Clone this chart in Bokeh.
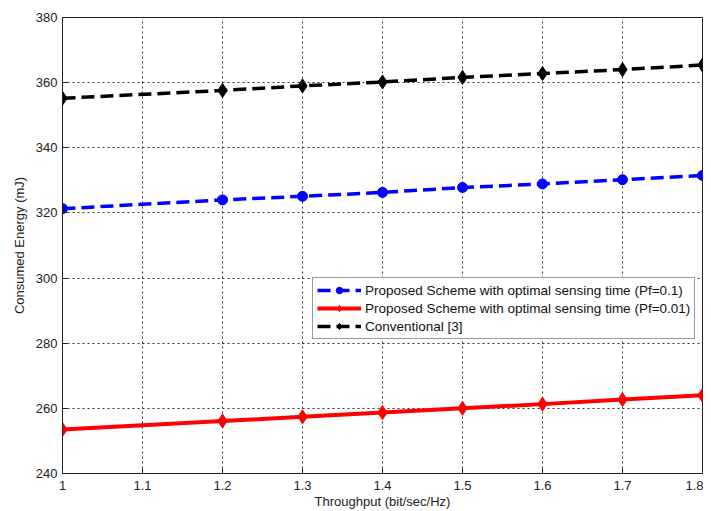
from bokeh.plotting import figure
from bokeh.models import Range1d, FixedTicker, NumeralTickFormatter, Legend, LegendItem
from bokeh.embed import file_html
from bokeh.resources import INLINE

throughput = [1.0, 1.2, 1.3, 1.4, 1.5, 1.6, 1.7, 1.8]
energy_pf01 = [321.3, 324.0, 325.1, 326.3, 327.8, 328.9, 330.2, 331.5]
energy_pf001 = [253.5, 256.1, 257.4, 258.7, 260.0, 261.3, 262.7, 264.0]
energy_conv = [355.2, 357.6, 359.0, 360.2, 361.6, 362.8, 364.0, 365.4]

x_ticks = [1.0, 1.1, 1.2, 1.3, 1.4, 1.5, 1.6, 1.7, 1.8]
y_ticks = [240, 260, 280, 300, 320, 340, 360, 380]

labels = [
    "Proposed Scheme with optimal sensing time (Pf=0.1)",
    "Proposed Scheme with optimal sensing time (Pf=0.01)",
    "Conventional [3]",
]

FONT = "Liberation Sans"

p = figure(width=703, height=511, output_backend="svg", toolbar_location=None,
           x_range=Range1d(1.0, 1.8), y_range=Range1d(240, 380),
           min_border_left=62, min_border_right=1, min_border_top=17, min_border_bottom=37)

p.outline_line_color = "#222222"
p.outline_line_width = 1

for ax in (p.xaxis[0], p.yaxis[0]):
    ax.major_tick_in = 5
    ax.major_tick_out = 0
    ax.minor_tick_line_color = None
    ax.axis_line_color = "#222222"
    ax.major_tick_line_color = "#222222"
    ax.major_label_text_font = FONT
    ax.major_label_text_font_size = "13px"
    ax.major_label_text_color = "#222222"
    ax.axis_label_text_font = FONT
    ax.axis_label_text_font_size = "13px"
    ax.axis_label_text_font_style = "normal"
    ax.axis_label_text_color = "#222222"

p.xaxis.ticker = FixedTicker(ticks=x_ticks)
p.yaxis.ticker = FixedTicker(ticks=y_ticks)
p.xaxis.formatter = NumeralTickFormatter(format="0.[0]")
p.xaxis.axis_label = "Throughput (bit/sec/Hz)"
p.yaxis.axis_label = "Consumed Energy (mJ)"
p.xaxis.major_label_standoff = 7
p.xaxis.axis_label_standoff = 1
p.yaxis.major_label_standoff = 5
p.yaxis.axis_label_standoff = 6

for g in (p.xgrid[0], p.ygrid[0]):
    g.grid_line_color = "black"
    g.grid_line_dash = "2 3"
    g.grid_line_width = 1
    g.grid_line_alpha = 0.8

l1 = p.line(throughput, energy_pf01, line_color="blue", line_width=3.5, line_dash="13 6")
m1 = p.scatter(throughput, energy_pf01, marker="circle", size=10, fill_color="blue", line_color="blue")
l2 = p.line(throughput, energy_pf001, line_color="red", line_width=4)
m2 = p.scatter(throughput, energy_pf001, marker="diamond", size=14, fill_color="red", line_color="red")
l3 = p.line(throughput, energy_conv, line_color="black", line_width=3.5, line_dash="13 6")
m3 = p.scatter(throughput, energy_conv, marker="diamond", size=14, fill_color="black", line_color="black")

legend = Legend(items=[
    LegendItem(label=labels[0], renderers=[l1, m1]),
    LegendItem(label=labels[1], renderers=[l2, m2]),
    LegendItem(label=labels[2], renderers=[l3, m3]),
], location=(250, 134))
legend.label_text_font = FONT
legend.label_text_font_size = "13.5px"
legend.label_text_color = "#111111"
legend.glyph_width = 44
legend.glyph_height = 16
legend.label_height = 16
legend.spacing = 2
legend.padding = 4
legend.margin = 0
legend.label_standoff = 4
legend.border_line_color = "#333333"
legend.border_line_width = 1
legend.background_fill_color = "white"
legend.background_fill_alpha = 1
p.add_layout(legend, "center")

open("out.html", "w").write(file_html(p, INLINE))
